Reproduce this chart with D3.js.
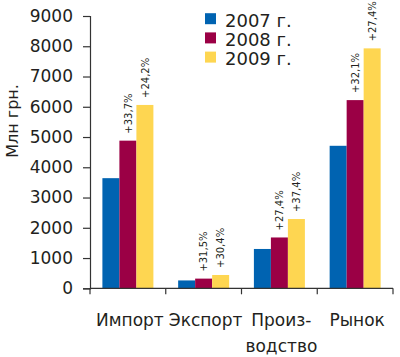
<!DOCTYPE html>
<html><head><meta charset="utf-8">
<script src="https://cdn.jsdelivr.net/npm/d3@7"></script>
<style>body{margin:0;background:#fff}svg{display:block}text{font-family:"DejaVu Sans",sans-serif;fill:#231f20}</style>
</head><body><svg id="c" width="400" height="357"></svg>
<script>
const categories = ["Импорт", "Экспорт", "Произ-|водство", "Рынок"];
const years = ["2007 г.", "2008 г.", "2009 г."];
const values2007 = [3640, 260, 1300, 4710];
const values2008 = [4880, 320, 1680, 6220];
const values2009 = [6060, 440, 2290, 7930];
const growth2008 = ["+33,7%", "+31,5%", "+27,4%", "+32,1%"];
const growth2009 = ["+24,2%", "+30,4%", "+37,4%", "+27,4%"];
const yTicks = [0, 1000, 2000, 3000, 4000, 5000, 6000, 7000, 8000, 9000];
const colors = ["#0063b1", "#9b0045", "#fed651"];

const svg = d3.select("#c");
const y = d3.scaleLinear().domain([0, 9000]).range([288.3, 16]);
const x0 = d3.scaleBand().domain(categories).range([90, 393]);
const x1 = d3.scaleBand().domain(years).range([12.4, 63.4]);
const series = [values2007, values2008, values2009];
const growth = [null, growth2008, growth2009];

// bars
categories.forEach((c, i) => {
  years.forEach((yr, j) => {
    const v = series[j][i];
    svg.append("rect")
      .attr("x", x0(c) + x1(yr)).attr("width", x1.bandwidth())
      .attr("y", y(v)).attr("height", y(0) - y(v))
      .attr("fill", colors[j]);
    if (growth[j]) {
      const cx = x0(c) + x1(yr) + x1.bandwidth() / 2;
      const ty = y(v) - 7;
      svg.append("text")
        .attr("transform", `translate(${cx},${ty}) rotate(-90)`)
        .attr("dy", "0.36em")
        .attr("font-size", 10)
        .text(growth[j][i]);
    }
  });
});

// y axis
const yAxis = d3.axisLeft(y).tickValues(yTicks).tickFormat(d => d).tickSize(7).tickPadding(10);
const gy = svg.append("g").attr("transform", "translate(90,0)").call(yAxis);
gy.select(".domain").attr("stroke", "#333").attr("stroke-width", 1.2);
gy.selectAll(".tick line").attr("stroke", "#333").attr("stroke-width", 1.2);
gy.selectAll(".tick text").attr("font-size", 17).attr("fill", "#231f20")
  .style("font-family", '"DejaVu Sans",sans-serif');

// x axis
svg.append("line").attr("x1", 90).attr("x2", 393).attr("y1", y(0)).attr("y2", y(0))
  .attr("stroke", "#333").attr("stroke-width", 1.2);
const bounds = categories.map(c => x0(c)).concat([x0.range()[1]]);
bounds.forEach(b => {
  svg.append("line").attr("x1", b).attr("x2", b).attr("y1", y(0)).attr("y2", y(0) + 6)
    .attr("stroke", "#333").attr("stroke-width", 1.2);
});
categories.forEach((c, i) => {
  const lines = c.split("|");
  lines.forEach((l, k) => {
    svg.append("text").attr("x", x0(c) + x0.bandwidth() / 2 + 2)
      .attr("y", 325.7 + k * 26).attr("text-anchor", "middle")
      .attr("font-size", 17).text(l);
  });
});

// y title
svg.append("text").attr("transform", "translate(18,121) rotate(-90)")
  .attr("text-anchor", "middle").attr("font-size", 16).text("Млн грн.");

// legend
years.forEach((yr, j) => {
  const by = 26.7 + j * 19.2;
  svg.append("rect").attr("x", 205).attr("y", by - 13.5).attr("width", 11).attr("height", 11).attr("fill", colors[j]);
  svg.append("text").attr("x", 225).attr("y", by).attr("font-size", 18).text(yr);
});
</script></body></html>
